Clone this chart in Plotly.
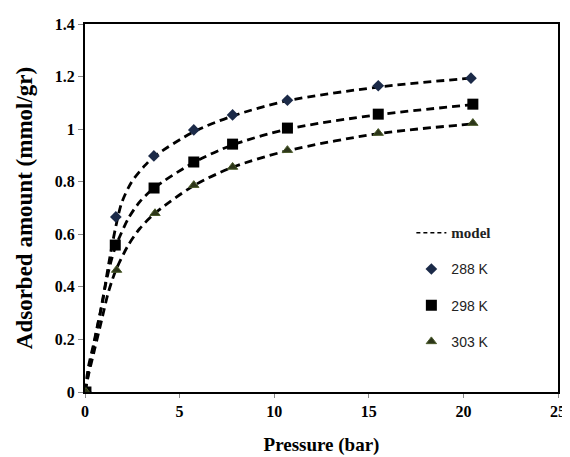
import plotly.graph_objects as go

# Experimental data (pressure in bar, adsorbed amount in mmol/gr)
p_288 = [0.05, 1.63, 3.64, 5.75, 7.8, 10.7, 15.5, 20.4]
q_288 = [0.0, 0.666, 0.898, 0.997, 1.054, 1.11, 1.165, 1.194]

p_298 = [0.05, 1.6, 3.65, 5.75, 7.8, 10.7, 15.5, 20.5]
q_298 = [0.0, 0.559, 0.776, 0.875, 0.943, 1.004, 1.057, 1.095]

p_303 = [0.05, 1.67, 3.7, 5.75, 7.8, 10.7, 15.5, 20.5]
q_303 = [0.0, 0.464, 0.68, 0.787, 0.856, 0.92, 0.985, 1.023]

# Model curves
pm_288 = [0, 0.18, 0.44, 0.7, 0.93, 1.11, 1.32, 1.63, 1.94, 2.47, 3.17, 3.64, 5.75, 7.8, 10.7, 15.5, 20.4]
qm_288 = [0, 0.096, 0.178, 0.267, 0.343, 0.426, 0.515, 0.63, 0.72, 0.8, 0.862, 0.895, 0.99, 1.05, 1.108, 1.16, 1.194]

pm_298 = [0, 0.2, 0.5, 0.8, 1.06, 1.35, 1.6, 2.29, 2.9, 3.65, 5.75, 7.8, 10.7, 15.5, 20.5]
qm_298 = [0, 0.08, 0.19, 0.3, 0.4, 0.49, 0.55, 0.66, 0.724, 0.776, 0.873, 0.94, 1.0, 1.055, 1.093]

pm_303 = [0, 0.2, 0.5, 0.9, 1.2, 1.41, 1.67, 2.29, 2.9, 3.7, 5.75, 7.8, 10.7, 15.5, 20.5]
qm_303 = [0, 0.07, 0.16, 0.28, 0.37, 0.42, 0.47, 0.559, 0.622, 0.68, 0.785, 0.855, 0.918, 0.983, 1.02]

x_ticks = [0, 5, 10, 15, 20, 25]
y_ticks = [0, 0.2, 0.4, 0.6, 0.8, 1.0, 1.2, 1.4]
y_tick_text = ["0", "0.2", "0.4", "0.6", "0.8", "1", "1.2", "1.4"]

dash_style = "8px,5px"
serif = "Liberation Serif"
sans = "Liberation Sans"

fig = go.Figure()

for pm, qm in [(pm_288, qm_288), (pm_298, qm_298), (pm_303, qm_303)]:
    fig.add_trace(go.Scatter(x=pm, y=qm, mode="lines", line=dict(color="black", width=2.8, dash=dash_style, shape="spline", smoothing=0.8),
                             showlegend=False, hoverinfo="skip"))

# legend entry for model
fig.add_trace(go.Scatter(x=[None], y=[None], mode="lines", line=dict(color="black", width=1.5, dash="4px,3px"),
                         name="<span style='font-family:Liberation Serif;font-size:15px'><b>model</b></span>", legendgroup="m"))

fig.add_trace(go.Scatter(x=p_288, y=q_288, mode="markers", name="288 K", legendgroup="a",
                         marker=dict(symbol="diamond", size=9, color="#1b2a48")))
fig.add_trace(go.Scatter(x=p_298, y=q_298, mode="markers", name="298 K", legendgroup="b",
                         marker=dict(symbol="square", size=11, color="black")))
fig.add_trace(go.Scatter(x=p_303, y=q_303, mode="markers", name="303 K", legendgroup="c",
                         marker=dict(symbol="triangle-up", size=9, color="#2c3519", line=dict(color="#4a5a2a", width=1))))

# the page body adds an 8px offset, so the figure is sized to fit the window
fig.update_layout(
    width=562, height=449,
    margin=dict(l=77, r=12, t=16, b=65),
    paper_bgcolor="white", plot_bgcolor="white",
    font=dict(family=serif, color="black"),
    legend=dict(x=0.69, y=0.475, xanchor="left", yanchor="top", bgcolor="rgba(0,0,0,0)",
                font=dict(family=sans, size=14, color="#222"), tracegroupgap=15),
)
fig.update_xaxes(range=[0, 25], tickvals=x_ticks, showgrid=False, zeroline=False, automargin=False,
                 showline=True, linecolor="black", linewidth=2, mirror=True,
                 ticks="outside", ticklen=4, tickcolor="#888",
                 tickfont=dict(family=serif, size=16, color="black", weight="bold"),
                 title=dict(text="<b>Pressure (bar)</b>", font=dict(family=serif, size=19), standoff=18))
fig.update_yaxes(range=[0, 1.4], tickvals=y_ticks, ticktext=y_tick_text, showgrid=False, zeroline=False, automargin=False,
                 showline=True, linecolor="black", linewidth=2, mirror=True,
                 ticks="outside", ticklen=5, tickcolor="#888",
                 tickfont=dict(family=serif, size=16, color="black", weight="bold"),
                 title=dict(text="<b>Adsorbed amount (mmol/gr)</b>", font=dict(family=serif, size=23), standoff=16))

fig.write_html("out.html")
